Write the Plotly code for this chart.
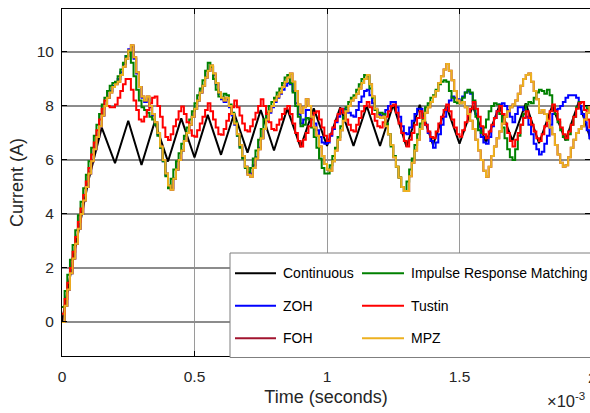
import numpy as np
import plotly.graph_objects as go

# ---- data -------------------------------------------------------------
Ts = 1e-5  # discrete sample period (s)

# continuous model: vertices of the inductor-current waveform (time in ms)
cont_time_ms = [0.0, 0.05, 0.10, 0.15, 0.20, 0.25, 0.30, 0.35, 0.40, 0.45, 0.50, 0.55, 0.60,
                0.65, 0.70, 0.75, 0.80, 0.85, 0.90, 0.95, 1.00, 1.05, 1.10,
                1.15, 1.20, 1.25, 1.30, 1.35, 1.40, 1.45, 1.50, 1.55, 1.60,
                1.65, 1.70, 1.75, 1.80, 1.85, 1.90, 1.95, 2.00]
cont_current = [0.0, 2.75, 5.25, 7.20, 5.88, 7.45, 5.81, 7.42, 5.94, 7.54, 6.09, 7.67, 6.19,
                7.73, 6.27, 7.85, 6.35, 7.90, 6.47, 7.91, 6.52, 7.95, 6.52,
                8.00, 6.52, 8.05, 6.49, 8.04, 6.56, 8.00, 6.60, 8.00, 6.64,
                8.00, 6.72, 8.10, 6.62, 8.00, 6.72, 8.15, 6.60]

zoh_current = [
    0.00, 0.60, 1.20, 1.80, 2.35, 2.90, 3.45, 4.00, 4.50, 5.00,
    5.50, 5.95, 6.40, 6.85, 7.25, 7.65, 8.00, 8.30, 8.55, 8.75,
    8.85, 9.00, 9.25, 9.55, 9.85, 10.10, 10.20, 9.75, 9.20, 8.70,
    8.30, 8.15, 8.25, 7.95, 7.65, 7.35, 6.95, 6.45, 5.95, 5.45,
    5.00, 4.95, 5.30, 5.65, 6.00, 6.35, 6.70, 7.00, 7.30, 7.60,
    7.90, 8.20, 8.50, 8.75, 9.05, 9.30, 9.45, 9.15, 8.80, 8.45,
    8.25, 8.15, 8.25, 7.95, 7.65, 7.30, 6.90, 6.50, 6.10, 5.75,
    5.50, 5.50, 5.80, 6.10, 6.45, 6.80, 7.15, 7.45, 7.75, 7.95,
    8.15, 8.30, 8.45, 8.60, 8.75, 8.85, 8.80, 8.55, 8.10, 7.70,
    7.35, 7.50, 7.85, 7.85, 7.60, 7.35, 7.10, 6.85, 6.65, 6.60,
    6.65, 6.90, 7.15, 7.40, 7.60, 7.80, 7.90, 7.85, 7.75, 7.65,
    7.60, 7.85, 8.15, 8.35, 8.55, 8.60, 8.40, 8.10, 7.85, 7.70,
    7.65, 7.70, 7.85, 8.00, 8.15, 8.15, 7.95, 7.60, 7.25, 7.00,
    6.95, 7.20, 7.45, 7.70, 7.90, 7.90, 7.60, 7.30, 7.00, 6.70,
    6.45, 6.65, 6.95, 7.30, 7.60, 7.90, 8.20, 8.35, 8.30, 8.25,
    8.20, 8.35, 8.50, 8.55, 8.45, 8.10, 7.70, 7.25, 6.85, 6.65,
    6.60, 6.85, 7.25, 7.55, 7.80, 8.05, 8.10, 8.00, 7.85, 7.60,
    7.40, 7.70, 7.95, 7.95, 7.85, 7.60, 7.30, 6.95, 6.60, 6.40,
    6.20, 6.30, 6.60, 6.90, 7.30, 7.70, 7.85, 7.90, 8.00, 8.15,
    8.30, 8.40, 8.40, 8.40, 8.30, 8.00, 7.70, 7.40, 7.10, 6.80,
    6.55]

irm_current = [
    0.55, 1.15, 1.75, 2.30, 2.85, 3.40, 3.95, 4.45, 4.95, 5.45,
    5.95, 6.45, 6.90, 7.30, 7.70, 8.05, 8.30, 8.55, 8.75, 8.85,
    8.90, 9.10, 9.35, 9.60, 9.85, 10.00, 9.60, 9.10, 8.60, 8.20,
    7.95, 7.85, 7.75, 7.60, 7.50, 7.30, 6.90, 6.45, 5.95, 5.40,
    4.95, 5.30, 5.65, 5.95, 6.25, 6.60, 6.90, 7.20, 7.50, 7.80,
    8.10, 8.40, 8.65, 8.95, 9.30, 9.60, 9.45, 9.00, 8.60, 8.35,
    8.30, 8.45, 8.40, 8.05, 7.75, 7.40, 6.90, 6.45, 6.05, 5.70,
    5.55, 5.70, 6.05, 6.35, 6.75, 7.15, 7.50, 7.75, 8.00, 8.15,
    8.30, 8.50, 8.65, 8.85, 9.05, 9.15, 8.85, 8.50, 8.00, 7.60,
    7.25, 7.30, 7.55, 7.50, 7.20, 6.85, 6.45, 6.05, 5.70, 5.50,
    5.50, 5.80, 6.15, 6.45, 6.85, 7.25, 7.60, 7.95, 8.15, 8.30,
    8.40, 8.60, 8.80, 9.00, 9.15, 9.10, 8.65, 8.30, 7.85, 7.75,
    7.75, 7.70, 7.35, 6.95, 6.50, 6.15, 5.75, 5.35, 5.00, 4.85,
    5.20, 5.65, 6.05, 6.55, 6.95, 7.35, 7.70, 7.95, 8.10, 8.30,
    8.40, 8.60, 8.80, 8.90, 8.95, 8.90, 8.55, 8.30, 8.15, 8.10,
    8.10, 8.30, 8.50, 8.60, 8.50, 8.20, 7.60, 7.10, 7.00, 7.20,
    7.50, 7.80, 8.00, 8.10, 8.05, 7.70, 7.20, 6.80, 6.40, 6.10,
    6.00, 6.40, 6.90, 7.30, 7.70, 8.05, 8.15, 8.10, 8.30, 8.50,
    8.60, 8.55, 8.45, 8.60, 8.40, 8.00, 7.70, 7.40, 7.10, 6.85,
    6.75, 6.95, 7.30, 7.60, 7.95, 8.15, 8.15, 8.00, 7.90, 7.85,
    7.80]

tustin_current = [
    0.30, 0.85, 1.45, 2.00, 2.60, 3.15, 3.70, 4.20, 4.70, 5.20,
    5.70, 6.20, 6.65, 7.10, 7.50, 7.90, 8.20, 8.00, 7.95, 7.95,
    8.05, 8.30, 8.55, 8.80, 9.00, 9.00, 8.60, 8.20, 7.85, 7.50,
    7.42, 7.60, 7.85, 8.10, 8.30, 8.35, 8.00, 7.60, 7.20, 6.85,
    6.74, 6.95, 7.25, 7.50, 7.80, 7.98, 7.70, 7.40, 7.10, 6.90,
    6.86, 7.10, 7.35, 7.60, 7.85, 8.10, 7.80, 7.50, 7.20, 6.95,
    6.93, 7.15, 7.45, 7.70, 7.95, 8.20, 7.95, 7.65, 7.35, 7.10,
    7.05, 7.25, 7.50, 7.75, 8.00, 8.25, 8.00, 7.70, 7.40, 7.15,
    7.10, 7.30, 7.50, 7.70, 7.90, 8.00, 7.70, 7.35, 7.00, 6.70,
    6.50, 6.75, 7.00, 7.25, 7.50, 7.75, 7.80, 7.50, 7.20, 6.90,
    6.70, 6.95, 7.20, 7.45, 7.70, 7.90, 7.75, 7.50, 7.30, 7.10,
    7.05, 7.30, 7.55, 7.80, 8.00, 8.15, 7.95, 7.70, 7.45, 7.25,
    7.20, 7.40, 7.60, 7.80, 8.00, 8.05, 7.75, 7.35, 7.00, 6.70,
    6.50, 6.75, 7.00, 7.30, 7.55, 7.80, 7.55, 7.30, 7.05, 6.85,
    6.80, 7.05, 7.35, 7.60, 7.85, 8.05, 7.80, 7.50, 7.20, 6.95,
    6.86, 7.10, 7.40, 7.65, 7.90, 8.15, 7.90, 7.60, 7.25, 6.95,
    6.80, 7.05, 7.30, 7.55, 7.80, 8.00, 7.70, 7.35, 7.00, 6.70,
    6.50, 6.75, 7.00, 7.30, 7.55, 7.80, 7.55, 7.30, 7.05, 6.80,
    6.70, 6.95, 7.25, 7.50, 7.80, 8.05, 7.80, 7.50, 7.20, 6.95,
    6.80, 7.05, 7.30, 7.60, 7.90, 8.10, 8.15, 7.85, 7.50, 7.20,
    7.10]

mpz_current = [
    0.00, 0.60, 1.20, 1.80, 2.35, 2.90, 3.45, 4.00, 4.50, 5.00,
    5.50, 5.95, 6.40, 6.85, 7.25, 7.65, 8.00, 8.30, 8.50, 8.70,
    8.80, 8.90, 9.15, 9.45, 9.75, 10.05, 10.25, 9.80, 9.25, 8.70,
    8.35, 8.20, 8.35, 8.00, 7.70, 7.40, 7.00, 6.50, 6.00, 5.50,
    5.05, 4.90, 5.30, 5.65, 6.00, 6.35, 6.70, 7.00, 7.30, 7.60,
    7.90, 8.20, 8.50, 8.75, 9.05, 9.30, 9.50, 9.20, 8.85, 8.50,
    8.30, 8.20, 8.30, 8.00, 7.70, 7.35, 6.95, 6.55, 6.15, 5.75,
    5.45, 5.38, 5.70, 6.05, 6.40, 6.80, 7.15, 7.50, 7.80, 8.00,
    8.20, 8.35, 8.50, 8.70, 8.90, 9.05, 9.20, 8.90, 8.55, 8.05,
    7.75, 7.95, 8.25, 8.00, 7.60, 7.20, 6.90, 6.50, 6.15, 5.85,
    5.65, 5.60, 5.95, 6.35, 6.75, 7.10, 7.45, 7.80, 8.00, 8.20,
    8.30, 8.45, 8.65, 8.85, 9.00, 9.15, 8.80, 8.35, 7.90, 7.60,
    7.55, 7.60, 7.25, 6.95, 6.55, 6.10, 5.75, 5.35, 5.00, 4.85,
    4.85, 5.40, 5.90, 6.35, 6.75, 7.15, 7.45, 7.75, 7.95, 8.15,
    8.35, 8.55, 8.85, 9.10, 9.35, 9.55, 9.30, 8.95, 8.55, 8.20,
    8.10, 8.15, 7.95, 7.70, 7.45, 7.15, 6.75, 6.35, 6.00, 5.60,
    5.38, 5.75, 6.15, 6.50, 6.80, 7.05, 7.35, 7.60, 7.80, 7.95,
    8.05, 8.20, 8.45, 8.75, 9.00, 9.15, 9.20, 8.90, 8.55, 8.25,
    7.75, 7.85, 7.70, 7.45, 7.20, 6.95, 6.55, 6.20, 5.90, 5.75,
    5.80, 6.10, 6.45, 6.75, 7.00, 7.15, 7.25, 7.50, 7.75, 7.95,
    8.15]

# first-order-hold response coincides with the matched pole-zero one here
foh_current = list(mpz_current)

x_ticks = [0, 0.5e-3, 1e-3, 1.5e-3]
x_tick_text = ["0", "0.5", "1", "1.5"]
y_ticks = [0, 2, 4, 6, 8, 10]

series = [
    # name, values, colour, legend row, legend column
    ("ZOH", zoh_current, "#0000FF", 1, 0),
    ("FOH", foh_current, "#A2142F", 2, 0),
    ("Impulse Response Matching", irm_current, "#008000", 0, 1),
    ("Tustin", tustin_current, "#FF0000", 1, 1),
    ("MPZ", mpz_current, "#EDB120", 2, 1),
]

# ---- geometry (pixels) ------------------------------------------------
W, H = 590, 413
L, R, T, B = 62, 0, 9, 57
plot_w = W - L - R
plot_h = H - T - B
px_per_ms = 265.0
x_max = plot_w / px_per_ms * 1e-3


def px_x(px):
    return (px - L) / plot_w


def px_y(py):
    return (H - B - py) / plot_h


FONT = "Liberation Sans, Arial, Helvetica, sans-serif"

fig = go.Figure()

fig.add_trace(go.Scatter(
    x=np.array(cont_time_ms) * 1e-3, y=cont_current, mode="lines",
    line=dict(color="#000000", width=2), name="Continuous", showlegend=False))

n = len(zoh_current)
t_samples = np.arange(n) * Ts
for name, vals, color, _, _ in series:
    fig.add_trace(go.Scatter(
        x=t_samples, y=vals, mode="lines",
        line=dict(color=color, width=2, shape="hv"),
        name=name, showlegend=False))

# ---- legend box drawn as shapes + text ---------------------------------
shapes = [dict(type="rect", xref="paper", yref="paper",
               x0=px_x(230), x1=px_x(620), y0=px_y(357.5), y1=px_y(253),
               line=dict(color="#7f7f7f", width=1), fillcolor="white",
               layer="above")]
annotations = []
row_y = [273.3, 305.7, 338.3]
col_line = [(235, 276), (362, 404)]
col_text = [281, 409]
legend_items = [("Continuous", "#000000", 0, 0)] + [(s[0], s[2], s[3], s[4]) for s in series]
for name, color, row, col in legend_items:
    y = px_y(row_y[row])
    shapes.append(dict(type="line", xref="paper", yref="paper",
                       x0=px_x(col_line[col][0]), x1=px_x(col_line[col][1]),
                       y0=y, y1=y, line=dict(color=color, width=2), layer="above"))
    annotations.append(dict(text=name, xref="paper", yref="paper",
                            x=px_x(col_text[col]), y=y, xanchor="left", yanchor="middle",
                            showarrow=False, font=dict(family=FONT, size=14, color="#000000")))

# exponent label and the right-most tick label that falls on the clipped edge
annotations.append(dict(text="\u00d710<sup>-3</sup>", xref="paper", yref="paper",
                        x=px_x(545), y=px_y(400), xanchor="left", yanchor="middle",
                        showarrow=False, font=dict(family=FONT, size=16.5, color="#262626")))
annotations.append(dict(text="2", xref="paper", yref="paper",
                        x=px_x(592), y=px_y(377), xanchor="center", yanchor="middle",
                        showarrow=False, font=dict(family=FONT, size=15.5, color="#262626")))

axis_common = dict(
    showline=True, linecolor="#000000", linewidth=1, mirror="ticks",
    ticks="inside", ticklen=5, tickcolor="#000000", tickwidth=1,
    zeroline=False, showgrid=True,
    tickfont=dict(family=FONT, size=15.5, color="#262626"),
)

fig.update_layout(
    width=W, height=H,
    margin=dict(l=L, r=R, t=T, b=B, pad=0),
    paper_bgcolor="white", plot_bgcolor="white",
    showlegend=False,
    xaxis=dict(range=[0, x_max], tickvals=x_ticks, ticktext=x_tick_text,
               gridcolor="#9a9a9a", gridwidth=1, ticklabelstandoff=6,
               title=dict(text="Time (seconds)", standoff=6,
                          font=dict(family=FONT, size=18, color="#262626")),
               **axis_common),
    yaxis=dict(range=[-1.26, 11.59], tickvals=y_ticks,
               gridcolor="#8c8c8c", gridwidth=1.5, ticklabelstandoff=4,
               title=dict(text="Current (A)", standoff=8,
                          font=dict(family=FONT, size=18, color="#262626")),
               **axis_common),
    shapes=shapes,
    annotations=annotations,
)

fig.write_html("out.html")
